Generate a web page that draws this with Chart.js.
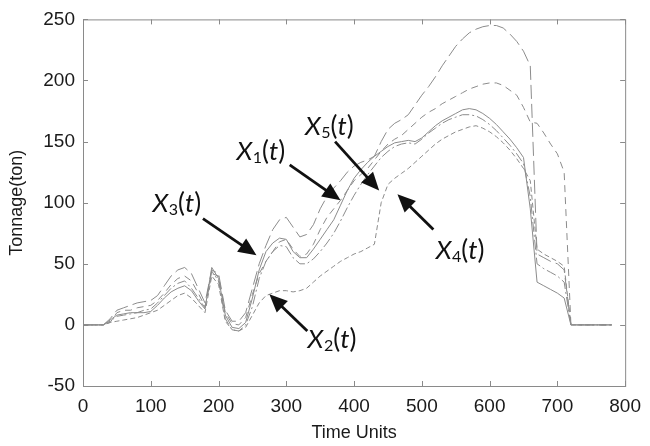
<!DOCTYPE html>
<html><head><meta charset="utf-8">
<script src="https://cdn.jsdelivr.net/npm/chart.js@4/dist/chart.umd.min.js"></script>
<style>html,body{margin:0;padding:0;background:#fff;}canvas{display:block;}</style>
</head><body>
<canvas id="c" width="650" height="446"></canvas>
<script>
// ---- data ----
const timeUnits = [0,10,20,30,40,50,60,70,80,90,100,110,120,130,140,150,160,170,180,190,200,210,220,230,240,250,260,270,280,290,300,310,320,330,340,350,360,370,380,390,400,410,420,430,440,450,460,470,480,490,500,510,520,530,540,550,560,570,580,590,600,610,620,630,640,650,660,670,680,690,700,710,720,730,740,750,760,770,780];

const seriesTop = [0,0,0,0,5,12,14,16,18,19,20,24,32,40,45,47,42,30,18,45,42,12,3,3,10,30,50,65,78,86,88,80,72,74,82,95,105,112,118,125,130,133,135,138,150,160,165,168,172,180,188,195,203,212,220,228,234,239,242,244,245,245,243,238,232,224,212,58,55,52,50,45,0,0,0,0,0,0,0];
const seriesSecond = [0,0,0,0,2,10,12,12,14,15,16,20,26,33,38,40,36,26,15,42,40,10,1,0,6,25,42,52,60,68,70,62,56,58,66,78,88,95,102,110,118,123,128,135,142,148,152,155,160,165,170,174,177,181,184,187,190,193,195,197,198,198,196,192,188,178,166,165,157,148,140,125,0,0,0,0,0,0,0];
const seriesX1 = [0,0,0,0,4,8,9,10,10,10,11,16,22,27,30,32,28,20,13,47,38,8,-2,-3,2,22,45,60,67,71,70,60,55,55,62,70,78,86,98,110,120,127,133,138,142,146,149,150,151,150,153,158,163,167,170,173,176,177,176,173,169,164,158,152,145,137,95,35,32,29,26,22,0,0,0,0,0,0,0];
const seriesX3 = [0,0,0,0,3,7,8,9,10,12,13,18,24,30,34,36,30,22,14,44,36,5,-4,-5,0,15,38,52,60,65,64,55,50,50,54,60,67,75,85,96,106,115,123,130,137,142,146,148,149,148,152,157,161,165,168,170,172,172,171,168,164,159,153,147,140,132,105,50,46,43,40,35,0,0,0,0,0,0,0];
const seriesX2 = [0,0,0,0,2,3,4,5,6,8,10,12,16,20,24,26,22,16,10,40,33,3,-4,-5,-2,8,18,24,26,28,28,27,28,30,35,40,44,48,52,55,58,60,63,66,100,115,120,124,128,133,138,143,148,152,155,158,160,162,163,161,158,154,149,143,136,128,118,62,58,55,52,48,0,0,0,0,0,0,0];

const xTicks = [0,100,200,300,400,500,600,700,800];
const yTicks = [-50,0,50,100,150,200,250];

// annotation labels (subscript numbers)
const labelNums = ['1','5','3','4','2'];

// ---- presentation ----
const pts = arr => arr.map((v,i)=>({x:timeUnits[i], y:v}));
const lineGray = '#8c8c8c';
const mk = (data, dash, w) => ({data: pts(data), borderColor: lineGray, borderWidth: w||1, borderDash: dash, pointRadius:0, fill:false, tension:0});

// annotation placement in data coordinates: text centre, arrow tail, arrow tip
const annot = [
  {n: labelNums[0], tx: 262, ty: 142, ax: 305, ay: 131, bx: 380, by: 102},
  {n: labelNums[1], tx: 363, ty: 162, ax: 372, ay: 150, bx: 437, by: 110},
  {n: labelNums[2], tx: 138, ty: 99,  ax: 177, ay: 87,  bx: 256, by: 57},
  {n: labelNums[3], tx: 556, ty: 61,  ax: 517, ay: 78,  bx: 464, by: 107},
  {n: labelNums[4], tx: 367, ty: -12, ax: 331, ay: -5,  bx: 275, by: 25}
];

const framePlugin = {
  id: 'frame',
  afterDatasetsDraw(chart) {
    const {ctx, chartArea: a, scales: {x, y}} = chart;
    ctx.save();
    ctx.strokeStyle = '#8a8a8a';
    ctx.lineWidth = 1;
    ctx.strokeRect(a.left + 0.5, a.top + 0.5, a.right - a.left, a.bottom - a.top);
    ctx.beginPath();
    const L = 5;
    xTicks.forEach(t => {
      const px = Math.round(x.getPixelForValue(t)) + 0.5;
      ctx.moveTo(px, a.bottom); ctx.lineTo(px, a.bottom - L);
      ctx.moveTo(px, a.top); ctx.lineTo(px, a.top + L);
    });
    yTicks.forEach(t => {
      const py = Math.round(y.getPixelForValue(t)) + 0.5;
      ctx.moveTo(a.left, py); ctx.lineTo(a.left + L, py);
      ctx.moveTo(a.right, py); ctx.lineTo(a.right - L, py);
    });
    ctx.stroke();

    // annotations
    ctx.fillStyle = '#111';
    ctx.strokeStyle = '#111';
    annot.forEach(an => {
      const x0 = x.getPixelForValue(an.ax), y0 = y.getPixelForValue(an.ay);
      const x1 = x.getPixelForValue(an.bx), y1 = y.getPixelForValue(an.by);
      const ang = Math.atan2(y1 - y0, x1 - x0);
      const hl = 18, hw = 8;
      const bxp = x1 - hl * Math.cos(ang), byp = y1 - hl * Math.sin(ang);
      ctx.lineWidth = 2.8;
      ctx.beginPath(); ctx.moveTo(x0, y0); ctx.lineTo(bxp + Math.cos(ang), byp + Math.sin(ang)); ctx.stroke();
      ctx.beginPath();
      ctx.moveTo(x1, y1);
      ctx.lineTo(bxp + hw * Math.sin(ang), byp - hw * Math.cos(ang));
      ctx.lineTo(bxp - hw * Math.sin(ang), byp + hw * Math.cos(ang));
      ctx.closePath(); ctx.fill();

      // text: X_n(t)
      const cx = x.getPixelForValue(an.tx), cy = y.getPixelForValue(an.ty);
      const fs = 26;
      const parts = [
        {s: 'X', f: `italic ${fs}px Lato`, dy: 0},
        {s: an.n, f: `${Math.round(fs*0.62)}px Lato`, dy: 6},
        {s: '(', f: `${fs}px Lato`, dy: 0},
        {s: 't', f: `italic ${fs}px Lato`, dy: 0},
        {s: ')', f: `${fs}px Lato`, dy: 0}
      ];
      let w = 0;
      parts.forEach(p => { ctx.font = p.f; p.w = ctx.measureText(p.s).width; w += p.w; });
      let px = cx - w / 2;
      ctx.textBaseline = 'middle';
      ctx.textAlign = 'left';
      parts.forEach(p => { ctx.font = p.f; ctx.fillText(p.s, px, cy + p.dy); px += p.w + (p.s==='X'?0.5:0); });
    });
    ctx.restore();
  }
};

new Chart(document.getElementById('c'), {
  type: 'line',
  data: {
    datasets: [
      mk(seriesTop, [14, 5]),
      mk(seriesSecond, [7, 5]),
      mk(seriesX1, []),
      mk(seriesX3, [10, 3, 2, 3]),
      mk(seriesX2, [5, 3])
    ]
  },
  options: {
    responsive: false,
    animation: false,
    layout: {padding: {left: 0, right: 18, top: 12, bottom: 0}},
    plugins: {legend: {display: false}, tooltip: {enabled: false}},
    scales: {
      x: {
        type: 'linear', min: 0, max: 800,
        afterBuildTicks: s => { s.ticks = xTicks.map(v => ({value: v})); },
        afterFit: s => { s.height = 60; },
        grid: {display: false, drawTicks: false},
        border: {display: false},
        ticks: {color: '#1a1a1a', font: {family: 'Liberation Sans', size: 19}, padding: 9, maxRotation: 0, autoSkip: false},
        title: {display: true, text: 'Time Units', color: '#1a1a1a', font: {family: 'Liberation Sans', size: 18}, padding: {top: 0, bottom: 2}}
      },
      y: {
        type: 'linear', min: -50, max: 250,
        afterBuildTicks: s => { s.ticks = yTicks.map(v => ({value: v})); },
        afterFit: s => { s.width = 83; },
        grid: {display: false, drawTicks: false},
        border: {display: false},
        ticks: {color: '#1a1a1a', font: {family: 'Liberation Sans', size: 19}, padding: 8, autoSkip: false},
        title: {display: true, text: 'Tonnage(ton)', color: '#1a1a1a', font: {family: 'Liberation Sans', size: 18}, padding: {top: 6, bottom: 0}}
      }
    }
  },
  plugins: [framePlugin]
});
</script>
</body></html>
